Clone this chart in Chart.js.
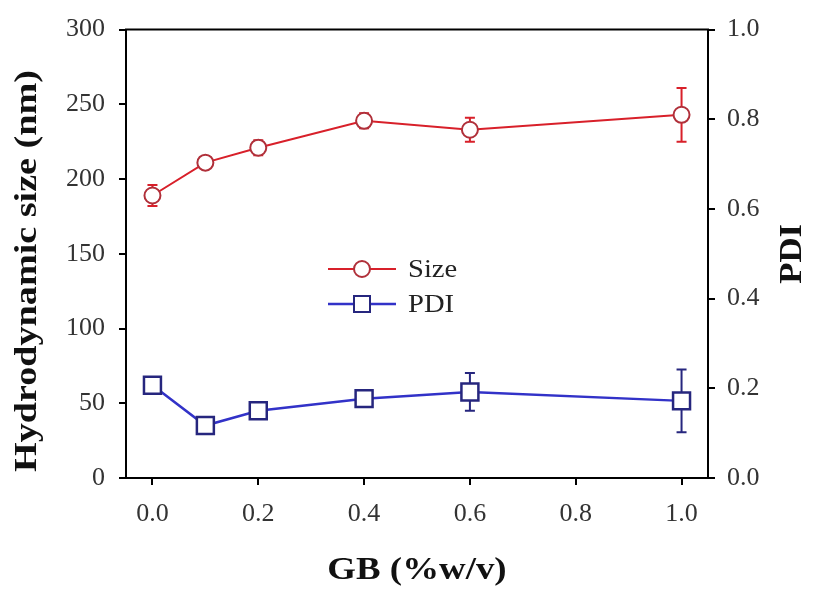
<!DOCTYPE html>
<html>
<head>
<meta charset="utf-8">
<script src="https://cdn.jsdelivr.net/npm/chart.js@4.4.0/dist/chart.umd.min.js"></script>
<style>
  html, body { margin: 0; padding: 0; background: #fff; }
  #wrap { width: 816px; height: 590px; position: relative; }
</style>
</head>
<body>
<div id="wrap"><canvas id="c"></canvas></div>
<script>
// ---- data ----
const xValues    = [0.0, 0.1, 0.2, 0.4, 0.6, 1.0];
const sizeValues = [189, 211, 221, 239, 233, 243];
const sizeErrors = [7, 3, 5, 5, 8, 18];
const pdiValues  = [0.207, 0.117, 0.150, 0.177, 0.192, 0.172];
const pdiErrors  = [0.005, 0.004, 0.005, 0.010, 0.042, 0.070];
const xTicks     = [0.0, 0.2, 0.4, 0.6, 0.8, 1.0];
const sizeTicks  = [0, 50, 100, 150, 200, 250, 300];
const pdiTicks   = [0.0, 0.2, 0.4, 0.6, 0.8, 1.0];
const seriesNames = ['Size', 'PDI'];
const xTitle = 'GB (%w/v)';
const yLeftTitle = 'Hydrodynamic size (nm)';
const yRightTitle = 'PDI';

const FONT = "'Liberation Serif', 'Times New Roman', serif";
const RED = '#d8202a';
const RED_MK = '#b0303a';
const BLUE = '#3232c8';
const BLUE_MK = '#26267e';

const errorBars = {
  id: 'errorBars',
  beforeDatasetsDraw(chart) {
    const ctx = chart.ctx;
    chart.data.datasets.forEach((ds, i) => {
      const xs = chart.scales.x;
      const ys = chart.scales[ds.yAxisID];
      ctx.save();
      ctx.strokeStyle = ds.errColor;
      ctx.lineWidth = 2;
      ds.data.forEach((p, j) => {
        const e = ds.errors[j];
        const px = xs.getPixelForValue(p.x);
        const top = ys.getPixelForValue(p.y + e);
        const bot = ys.getPixelForValue(p.y - e);
        ctx.beginPath();
        ctx.moveTo(px, top); ctx.lineTo(px, bot);
        ctx.moveTo(px - 5, top); ctx.lineTo(px + 5, top);
        ctx.moveTo(px - 5, bot); ctx.lineTo(px + 5, bot);
        ctx.stroke();
      });
      ctx.restore();
    });
  }
};

function stretchedText(ctx, text, x, y, rot, sx) {
  ctx.save();
  ctx.translate(x, y);
  ctx.rotate(rot);
  ctx.scale(sx, 1);
  ctx.fillText(text, 0, 0);
  ctx.restore();
}

const frameAndText = {
  id: 'frameAndText',
  afterDraw(chart) {
    const ctx = chart.ctx;
    const a = chart.chartArea;
    ctx.save();
    // top frame line
    ctx.strokeStyle = '#000';
    ctx.lineWidth = 2;
    ctx.beginPath();
    ctx.moveTo(a.left - 1, a.top);
    ctx.lineTo(a.right + 1, a.top);
    ctx.stroke();

    // axis titles
    ctx.fillStyle = '#111';
    ctx.textAlign = 'center';
    ctx.textBaseline = 'middle';
    ctx.font = 'bold 31px ' + FONT;
    stretchedText(ctx, xTitle, (a.left + a.right) / 2, 571, 0, 1.19);
    stretchedText(ctx, yLeftTitle, 28, 271, -Math.PI / 2, 1.23);
    stretchedText(ctx, yRightTitle, 793, (a.top + a.bottom) / 2, -Math.PI / 2, 1.12);

    // legend
    const rows = [269, 304];
    chart.data.datasets.forEach((ds, i) => {
      const y = rows[i];
      ctx.strokeStyle = ds.borderColor;
      ctx.lineWidth = ds.borderWidth;
      ctx.beginPath();
      ctx.moveTo(328, y); ctx.lineTo(396, y);
      ctx.stroke();
      ctx.fillStyle = '#fff';
      ctx.strokeStyle = ds.pointBorderColor;
      ctx.lineWidth = 2;
      ctx.beginPath();
      if (ds.pointStyle === 'circle') {
        ctx.arc(362, y, 8, 0, Math.PI * 2);
      } else {
        ctx.rect(362 - 8, y - 8, 16, 16);
      }
      ctx.fill();
      ctx.stroke();
      ctx.fillStyle = '#222';
      ctx.textAlign = 'left';
      ctx.font = '26px ' + FONT;
      ctx.save();
      ctx.translate(408, y + 1);
      ctx.scale(1.1, 1);
      ctx.fillText(ds.label, 0, 0);
      ctx.restore();
    });
    ctx.restore();
  }
};

const tickFont = { family: FONT, size: 26 };
const axisGrid = { drawOnChartArea: false, drawTicks: true, tickLength: 7, color: '#000', lineWidth: 2 };
const axisBorder = { display: true, color: '#000', width: 2 };

new Chart(document.getElementById('c'), {
  type: 'line',
  data: {
    datasets: [
      {
        label: seriesNames[0],
        data: xValues.map((x, i) => ({ x, y: sizeValues[i] })),
        errors: sizeErrors,
        errColor: RED,
        yAxisID: 'yL',
        borderColor: RED,
        borderWidth: 2,
        pointStyle: 'circle',
        pointRadius: 8,
        pointBorderWidth: 2,
        pointBorderColor: RED_MK,
        pointBackgroundColor: '#fff',
        tension: 0
      },
      {
        label: seriesNames[1],
        data: xValues.map((x, i) => ({ x, y: pdiValues[i] })),
        errors: pdiErrors,
        errColor: BLUE_MK,
        yAxisID: 'yR',
        borderColor: BLUE,
        borderWidth: 2.5,
        pointStyle: 'rect',
        pointRadius: 12,
        pointBorderWidth: 2.5,
        pointBorderColor: BLUE_MK,
        pointBackgroundColor: '#fff',
        tension: 0
      }
    ]
  },
  options: {
    responsive: true,
    maintainAspectRatio: false,
    animation: false,
    layout: { padding: { top: 25, left: 0, right: 0, bottom: 0 } },
    plugins: { legend: { display: false }, tooltip: { enabled: false } },
    scales: {
      x: {
        type: 'linear', position: 'bottom', min: -0.05, max: 1.05,
        afterBuildTicks: s => { s.ticks = xTicks.map(v => ({ value: v })); },
        afterFit: s => { s.height = 112; },
        ticks: { font: tickFont, color: '#333', padding: 14, maxRotation: 0, callback: v => Number(v).toFixed(1) },
        grid: axisGrid, border: axisBorder
      },
      yL: {
        type: 'linear', position: 'left', min: 0, max: 300,
        afterBuildTicks: s => { s.ticks = sizeTicks.map(v => ({ value: v })); },
        afterFit: s => { s.width = 126; },
        ticks: { font: tickFont, color: '#333', padding: 14, callback: v => String(v) },
        grid: axisGrid, border: axisBorder
      },
      yR: {
        type: 'linear', position: 'right', min: 0, max: 1,
        afterBuildTicks: s => { s.ticks = pdiTicks.map(v => ({ value: v })); },
        afterFit: s => { s.width = 108; },
        ticks: { font: tickFont, color: '#333', padding: 12, callback: v => Number(v).toFixed(1) },
        grid: axisGrid, border: axisBorder
      }
    }
  },
  plugins: [errorBars, frameAndText]
});
</script>
</body>
</html>
